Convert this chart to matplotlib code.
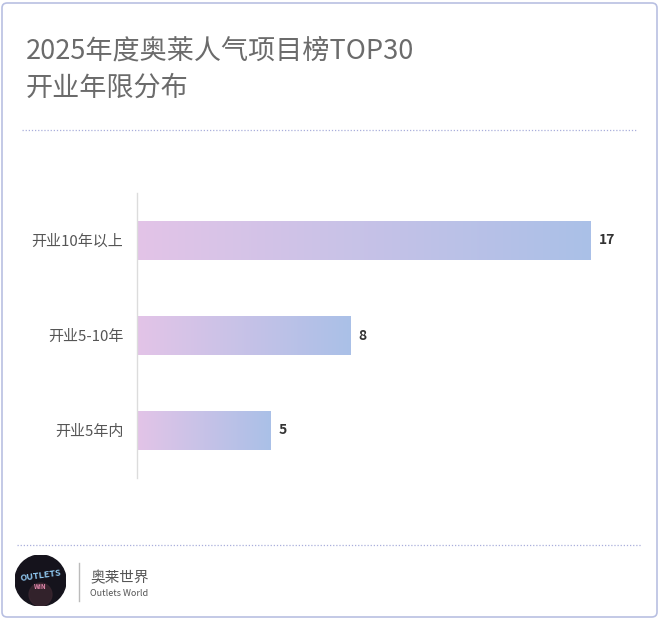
import numpy as np
import matplotlib
matplotlib.use('Agg')
import matplotlib.pyplot as plt
from matplotlib.colors import LinearSegmentedColormap
from matplotlib.patches import FancyBboxPatch, Circle

plt.rcParams['font.family'] = ['Noto Sans CJK SC', 'DejaVu Sans']

# data
categories = ['开业10年以上', '开业5-10年', '开业5年内']
values = [17, 8, 5]
title_lines = ['2025年度奥莱人气项目榜TOP30', '开业年限分布']

W, H = 660, 620
fig = plt.figure(figsize=(W / 100, H / 100), dpi=100)
fig.patch.set_facecolor('white')

# card border
fig.patches.append(FancyBboxPatch((2 / W, 3 / H), 655 / W, 614 / H,
                                  boxstyle='round,pad=0,rounding_size=0.008',
                                  transform=fig.transFigure, fill=False,
                                  edgecolor='#b9c0e2', linewidth=1.2))

# title
fig.text(26 / W, 1 - 51 / H, title_lines[0], fontsize=19.5, fontweight='medium', color='#6b6b6b', va='center', ha='left')
fig.text(26 / W, 1 - 88 / H, title_lines[1], fontsize=19.5, fontweight='medium', color='#6b6b6b', va='center', ha='left')

# dotted separators
for yy, x0, x1 in [(130, 22, 636), (545, 17, 641)]:
    fig.add_artist(plt.Line2D([x0 / W, x1 / W], [1 - yy / H, 1 - yy / H], transform=fig.transFigure,
                              color='#a9aedb', linestyle=(0, (1, 1.5)), linewidth=0.9))

# main chart
ax = fig.add_axes([137 / W, 142 / H, 494 / W, 285 / H])
ypos = np.arange(len(categories))
bh = 0.42
cmap = LinearSegmentedColormap.from_list('g', ['#e3c4e7', '#aac0e8'])
grad = np.linspace(0, 1, 256).reshape(1, -1)
bars = ax.barh(ypos, values, height=bh, facecolor='none', edgecolor='none')
for b, v, y in zip(bars, values, ypos):
    im = ax.imshow(grad, cmap=cmap, aspect='auto', extent=(0, v, y + bh / 2, y - bh / 2), zorder=2)
    im.set_clip_path(b)
    ax.text(v + 0.3, y, str(v), va='center', ha='left', fontsize=10, fontweight='bold', color='#333333')
ax.set_xlim(0, 18.5)
ax.set_ylim(2.5, -0.5)
ax.set_yticks(ypos)
ax.set_yticklabels(categories, fontsize=10.8, color='#555555')
ax.tick_params(axis='y', length=0, pad=10)
ax.set_xticks([])
for s in ['top', 'right', 'bottom']:
    ax.spines[s].set_visible(False)
ax.spines['left'].set_color('#dcdcdc')
ax.spines['left'].set_linewidth(1)

# footer logo
lax = fig.add_axes([15 / W, 1 - 606 / H, 51 / W, 51 / H])
lax.set_xlim(-1, 1)
lax.set_ylim(-1, 1)
lax.set_aspect('equal')
lax.axis('off')
lax.add_patch(Circle((0, 0), 1, color='#15131c'))
lax.add_patch(Circle((0, -0.55), 0.45, color='#3a2630', alpha=0.8))
lax.text(0, 0.2, 'OUTLETS', fontsize=6.5, fontweight='bold', color='#8ec6ee', ha='center', va='center', rotation=8)
lax.text(0, -0.25, 'WIN', fontsize=4.5, fontweight='bold', color='#e88ab0', ha='center', va='center')

fig.add_artist(plt.Line2D([79 / W, 79 / W], [1 - 563 / H, 1 - 601 / H], transform=fig.transFigure,
                          color='#bbbbbb', linewidth=1))
fig.text(90 / W, 1 - 578 / H, '奥莱世界', fontsize=10.5, color='#555555', va='center', ha='left')
fig.text(90 / W, 1 - 593 / H, 'Outlets World', fontsize=6.5, color='#555555', va='center', ha='left')

fig.savefig('out.png', dpi=100, facecolor='white')
